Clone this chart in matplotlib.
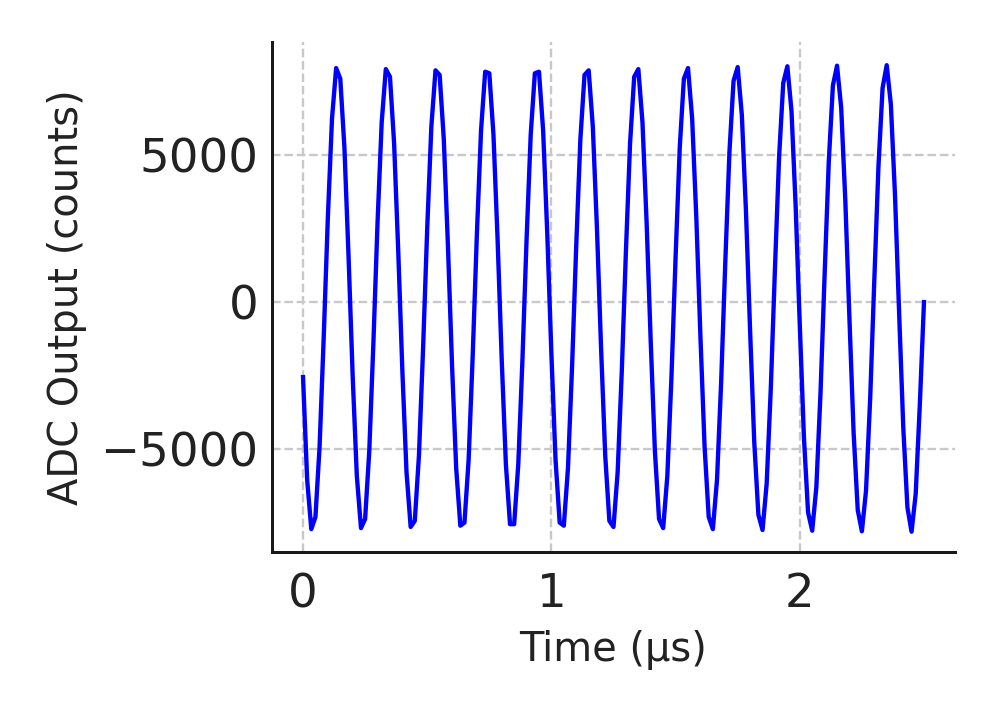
import numpy as np
import matplotlib
matplotlib.use("Agg")
import matplotlib.pyplot as plt

# ADC samples, 60 MS/s (one every 1/60 us)
sample_rate_msps = 60
adc_counts = [
    -2550, -6050, -7722, -7307, -4916, -1184, 2895, 6240, 7959, 7597, 5248, 1537,
    -2548, -5921, -7688, -7376, -5070, -1382, 2706, 6109, 7923, 7663, 5400, 1735,
    -2357, -5789, -7648, -7440, -5220, -1579, 2515, 5976, 7881, 7725, 5549, 1932,
    -2164, -5653, -7604, -7500, -5369, -1776, 2321, 5837, 7834, 7782, 5695, 2128,
    -1971, -5512, -7554, -7554, -5512, -1971, 2127, 5694, 7781, 7834, 5837, 2322,
    -1776, -5369, -7500, -7604, -5653, -2164, 1932, 5549, 7725, 7881, 5976, 2515,
    -1580, -5221, -7441, -7648, -5789, -2356, 1735, 5400, 7663, 7923, 6109, 2706,
    -1384, -5072, -7376, -7687, -5921, -2547, 1537, 5248, 7597, 7959, 6240, 2895,
    -1184, -4916, -7307, -7722, -6050, -2737, 1338, 5091, 7525, 7992, 6368, 3084,
    -985, -4759, -7234, -7751, -6175, -2923, 1138, 4933, 7449, 8019, 6490, 3270,
    -786, -4598, -7155, -7776, -6297, -3108, 939, 4771, 7368, 8040, 6609, 3454,
    -585, -4436, -7073, -7795, -6413, -3291, 738, 4606, 7283, 8057, 6723, 3636,
    -385, -4269, -6985, -7809, -6525, -3471, 0,
]
time_us = np.arange(len(adc_counts)) / sample_rate_msps

x_ticks = [0, 1, 2]
y_ticks = [-5000, 0, 5000]

dpi = 240
fig = plt.figure(figsize=(997 / dpi, 712 / dpi), dpi=dpi)
ax = fig.add_axes([0.2728, 0.2247, 0.9579 - 0.2728, 0.941 - 0.2247])

ax.plot(time_us, adc_counts, color="blue", linewidth=1.3)

ax.set_xticks(x_ticks)
ax.set_yticks(y_ticks)
ax.set_ylim(-8500, 8845)
ax.grid(True, color="#c8c8c8", linestyle="--", linewidth=0.7)
ax.set_axisbelow(True)

for side in ["top", "right"]:
    ax.spines[side].set_visible(False)
for side in ["left", "bottom"]:
    ax.spines[side].set_color("#1a1a1a")
    ax.spines[side].set_linewidth(0.9)

ax.tick_params(axis="both", length=0, labelsize=14, labelcolor="#222222")
ax.tick_params(axis="x", pad=6)
ax.tick_params(axis="y", pad=4)

ax.set_xlabel("Time (µs)", fontsize=12, color="#222222")
ax.set_ylabel("ADC Output (counts)", fontsize=12, color="#222222")

fig.savefig("out.png", dpi=dpi)
